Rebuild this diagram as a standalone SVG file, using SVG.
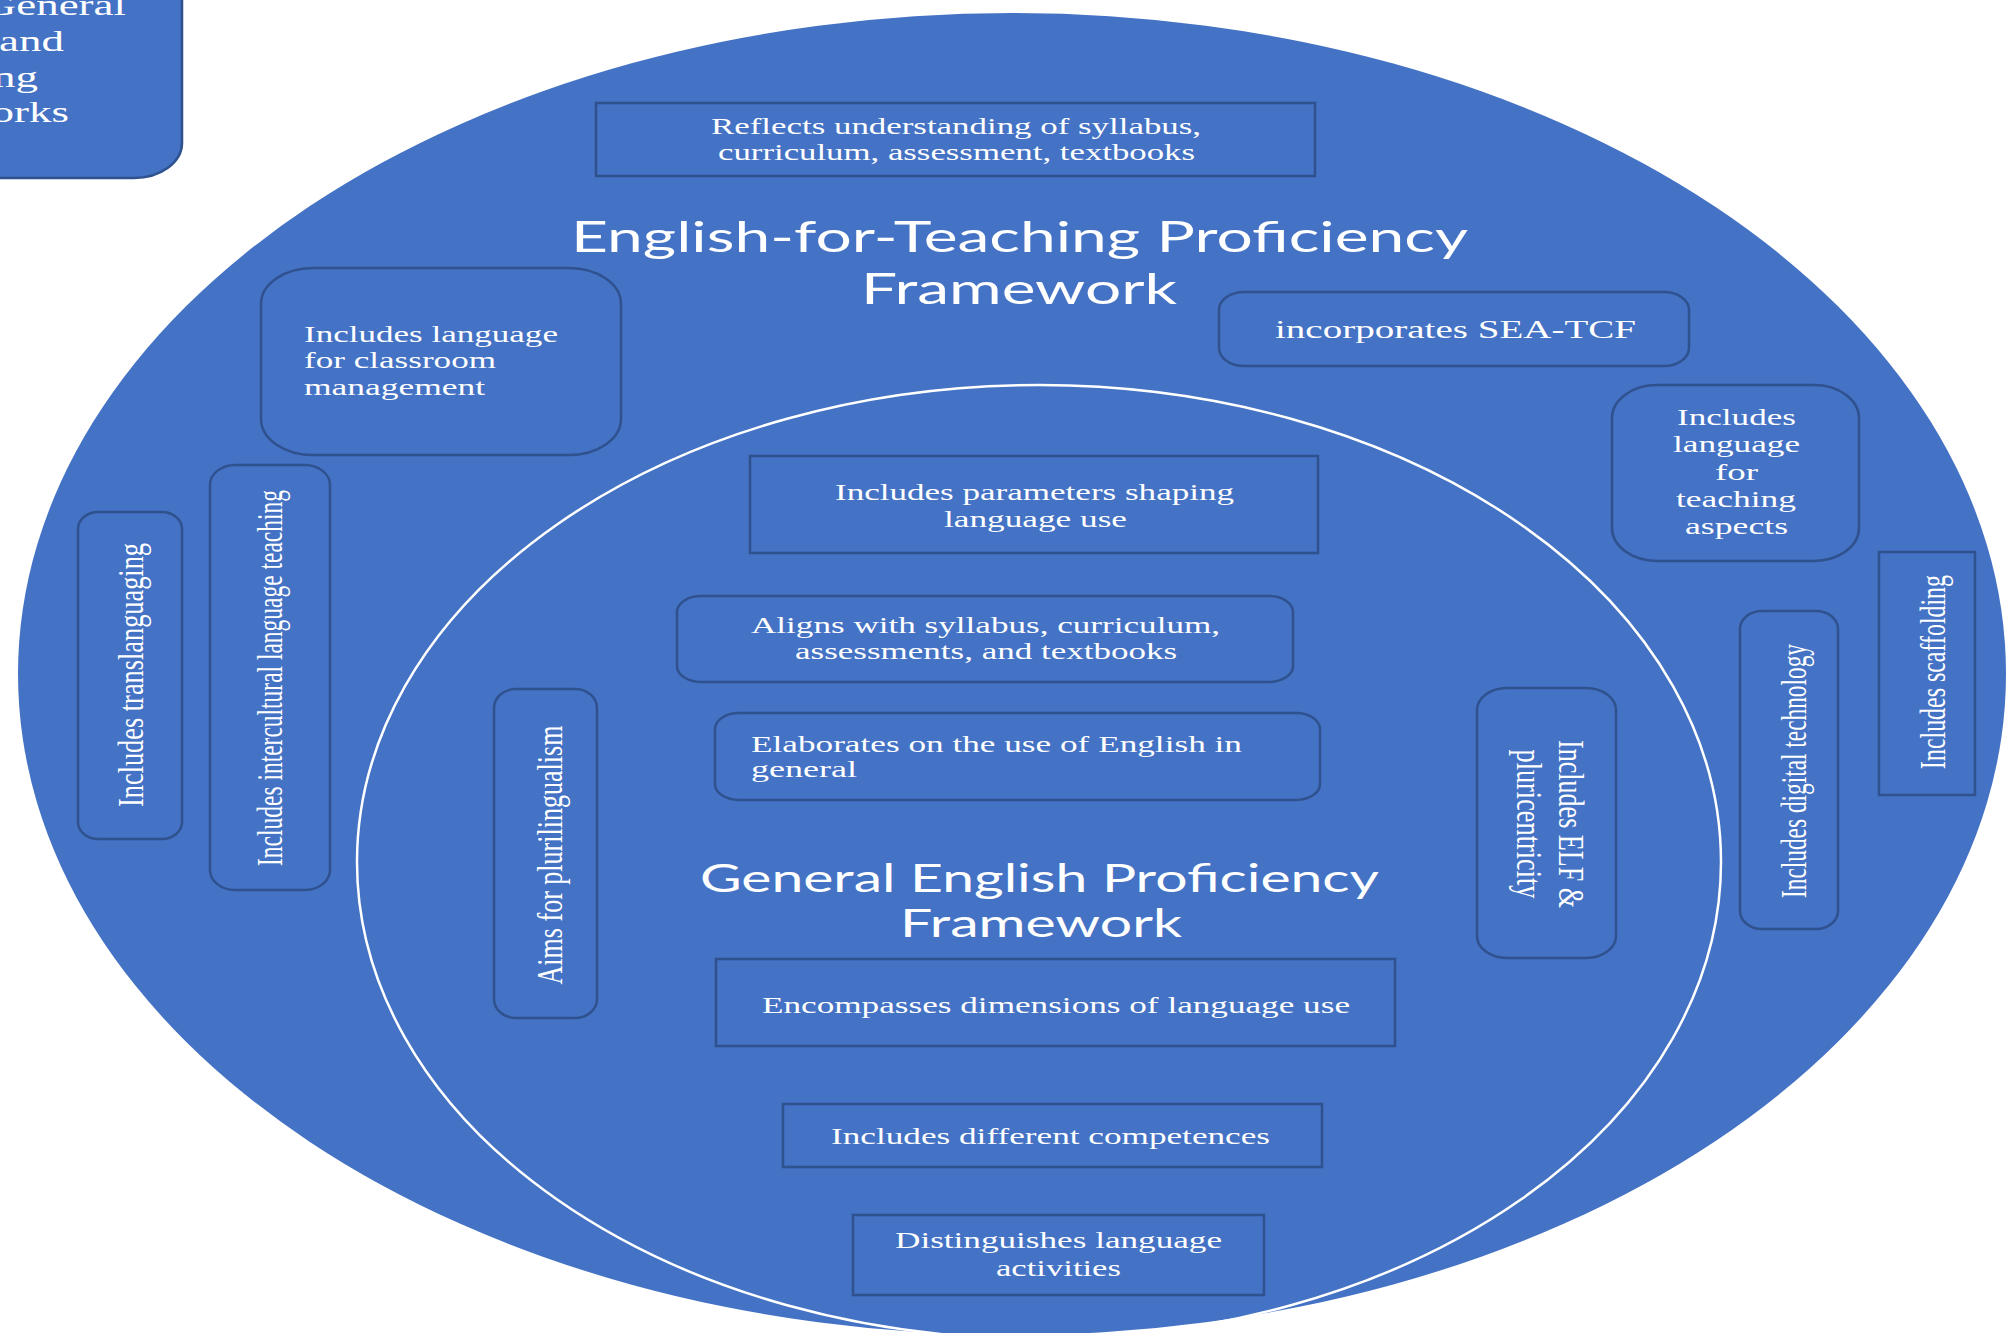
<svg xmlns="http://www.w3.org/2000/svg" width="2008" height="1333" viewBox="0 0 2008 1333">
  <style>
    .bg { fill: #ffffff; }
    .disc { fill: #4472C4; }
    .ring { fill: none; stroke: #ffffff; stroke-width: 2.5; }
    .box { fill: #4472C4; stroke: #2F528F; stroke-width: 2.5; }
    .t { font-family: "Liberation Serif", "Times New Roman", serif; font-size: 24px; fill: #ffffff; }
    .big { font-size: 25px; }
    .frag { font-family: "Liberation Serif", "Times New Roman", serif; font-size: 29px; fill: #ffffff; }
    .title { font-family: Lato, "Open Sans", "Liberation Sans", sans-serif; fill: #ffffff; }
    .t1 { font-size: 42px; }
    .t2 { font-size: 38px; }
  </style>

  <rect class="bg" x="0" y="0" width="2008" height="1333"/>

  <!-- outer framework disc and inner framework ring -->
  <g id="frameworks">
    <ellipse class="disc" cx="1012" cy="674" rx="994" ry="661"/>
    <ellipse class="ring" cx="1039" cy="862" rx="682" ry="477"/>
  </g>

  <!-- titles -->
  <g id="title-teaching">
    <text class="title t1" x="571" y="252" textLength="897" lengthAdjust="spacingAndGlyphs">English-for-Teaching Proficiency</text>
    <text class="title t1" x="861" y="304" textLength="316" lengthAdjust="spacingAndGlyphs">Framework</text>
  </g>
  <g id="title-general">
    <text class="title t2" x="700" y="892" textLength="679" lengthAdjust="spacingAndGlyphs">General English Proficiency</text>
    <text class="title t2" x="900" y="937" textLength="282" lengthAdjust="spacingAndGlyphs">Framework</text>
  </g>

  <!-- corner box, partly off the page -->
  <g id="corner-note">
    <rect class="box" x="-60" y="-60" width="242" height="238" rx="48" ry="35"/>
    <text class="frag" text-anchor="end" transform="translate(126,15) scale(1.55,1)">General</text>
    <text class="frag" text-anchor="end" transform="translate(64,51) scale(1.55,1)">and</text>
    <text class="frag" text-anchor="end" transform="translate(38,87) scale(1.55,1)">ng</text>
    <text class="frag" text-anchor="end" transform="translate(69,122) scale(1.55,1)">orks</text>
  </g>

  <!-- outer ring nodes (labels are drawn 1.5x wide) -->
  <g id="node-reflects">
    <rect class="box" x="596" y="103" width="719" height="73"/>
    <text class="t" transform="translate(711,134) scale(1.5,1)" textLength="326.7" lengthAdjust="spacingAndGlyphs">Reflects understanding of syllabus,</text>
    <text class="t" transform="translate(718,160) scale(1.5,1)" textLength="318" lengthAdjust="spacingAndGlyphs">curriculum, assessment, textbooks</text>
  </g>

  <g id="node-classroom">
    <rect class="box" x="261" y="268" width="360" height="187" rx="52" ry="36"/>
    <text class="t" transform="translate(304,342) scale(1.5,1)" textLength="169.3" lengthAdjust="spacingAndGlyphs">Includes language</text>
    <text class="t" transform="translate(304,368) scale(1.5,1)" textLength="128" lengthAdjust="spacingAndGlyphs">for classroom</text>
    <text class="t" transform="translate(304,395) scale(1.5,1)" textLength="120.7" lengthAdjust="spacingAndGlyphs">management</text>
  </g>

  <g id="node-seatcf">
    <rect class="box" x="1219" y="292" width="470" height="74" rx="25" ry="18"/>
    <text class="t big" transform="translate(1275,338) scale(1.5,1)" textLength="240.7" lengthAdjust="spacingAndGlyphs">incorporates SEA-TCF</text>
  </g>

  <g id="node-teaching-aspects">
    <rect class="box" x="1612" y="385" width="247" height="176" rx="45" ry="33"/>
    <text class="t" transform="translate(1677,425) scale(1.5,1)" textLength="79.3" lengthAdjust="spacingAndGlyphs">Includes</text>
    <text class="t" transform="translate(1673,452) scale(1.5,1)" textLength="84.7" lengthAdjust="spacingAndGlyphs">language</text>
    <text class="t" transform="translate(1715,480) scale(1.5,1)" textLength="28.7" lengthAdjust="spacingAndGlyphs">for</text>
    <text class="t" transform="translate(1676,507) scale(1.5,1)" textLength="80" lengthAdjust="spacingAndGlyphs">teaching</text>
    <text class="t" transform="translate(1685,534) scale(1.5,1)" textLength="68.7" lengthAdjust="spacingAndGlyphs">aspects</text>
  </g>

  <g id="node-scaffolding">
    <rect class="box" x="1879" y="552" width="96" height="243"/>
    <text class="t" x="-97" y="0" textLength="194" lengthAdjust="spacingAndGlyphs" transform="translate(1945,672) scale(1.5,1) rotate(-90)">Includes scaffolding</text>
  </g>

  <g id="node-digital">
    <rect class="box" x="1740" y="611" width="98" height="318" rx="22" ry="18"/>
    <text class="t" x="-127" y="0" textLength="254" lengthAdjust="spacingAndGlyphs" transform="translate(1806,771) scale(1.5,1) rotate(-90)">Includes digital technology</text>
  </g>

  <g id="node-translanguaging">
    <rect class="box" x="78" y="512" width="104" height="327" rx="20" ry="17"/>
    <text class="t" x="-132" y="0" textLength="264" lengthAdjust="spacingAndGlyphs" transform="translate(143,675) scale(1.5,1) rotate(-90)">Includes translanguaging</text>
  </g>

  <g id="node-intercultural">
    <rect class="box" x="210" y="465" width="120" height="425" rx="25" ry="20"/>
    <text class="t" x="-188" y="0" textLength="376" lengthAdjust="spacingAndGlyphs" transform="translate(282,678) scale(1.5,1) rotate(-90)">Includes intercultural language teaching</text>
  </g>

  <!-- inner ring nodes -->
  <g id="node-plurilingualism">
    <rect class="box" x="494" y="689" width="103" height="329" rx="22" ry="19"/>
    <text class="t" x="-129.5" y="0" textLength="259" lengthAdjust="spacingAndGlyphs" transform="translate(562,855) scale(1.5,1) rotate(-90)">Aims for plurilingualism</text>
  </g>

  <g id="node-elf">
    <rect class="box" x="1477" y="688" width="139" height="270" rx="30" ry="22"/>
    <text class="t" x="-84" y="0" textLength="168" lengthAdjust="spacingAndGlyphs" transform="translate(1559,824) scale(1.5,1) rotate(90)">Includes ELF &amp;</text>
    <text class="t" x="-74.5" y="0" textLength="149" lengthAdjust="spacingAndGlyphs" transform="translate(1517,824) scale(1.5,1) rotate(90)">pluricentricity</text>
  </g>

  <g id="node-parameters">
    <rect class="box" x="750" y="456" width="568" height="97"/>
    <text class="t" transform="translate(835,500) scale(1.5,1)" textLength="266" lengthAdjust="spacingAndGlyphs">Includes parameters shaping</text>
    <text class="t" transform="translate(944,527) scale(1.5,1)" textLength="122" lengthAdjust="spacingAndGlyphs">language use</text>
  </g>

  <g id="node-aligns">
    <rect class="box" x="677" y="596" width="616" height="86" rx="24" ry="16"/>
    <text class="t" transform="translate(751,633) scale(1.5,1)" textLength="312.7" lengthAdjust="spacingAndGlyphs">Aligns with syllabus, curriculum,</text>
    <text class="t" transform="translate(795,659) scale(1.5,1)" textLength="254.7" lengthAdjust="spacingAndGlyphs">assessments, and textbooks</text>
  </g>

  <g id="node-elaborates">
    <rect class="box" x="715" y="713" width="605" height="87" rx="24" ry="16"/>
    <text class="t" transform="translate(751,752) scale(1.5,1)" textLength="327.3" lengthAdjust="spacingAndGlyphs">Elaborates on the use of English in</text>
    <text class="t" transform="translate(751,777) scale(1.5,1)" textLength="70.7" lengthAdjust="spacingAndGlyphs">general</text>
  </g>

  <g id="node-encompasses">
    <rect class="box" x="716" y="959" width="679" height="87"/>
    <text class="t" transform="translate(762,1013) scale(1.5,1)" textLength="392" lengthAdjust="spacingAndGlyphs">Encompasses dimensions of language use</text>
  </g>

  <g id="node-competences">
    <rect class="box" x="783" y="1104" width="539" height="63"/>
    <text class="t" transform="translate(831,1144) scale(1.5,1)" textLength="292.7" lengthAdjust="spacingAndGlyphs">Includes different competences</text>
  </g>

  <g id="node-activities">
    <rect class="box" x="853" y="1215" width="411" height="80"/>
    <text class="t" transform="translate(895,1248) scale(1.5,1)" textLength="218" lengthAdjust="spacingAndGlyphs">Distinguishes language</text>
    <text class="t" transform="translate(996,1276) scale(1.5,1)" textLength="83.3" lengthAdjust="spacingAndGlyphs">activities</text>
  </g>

  <!-- the figure has no connector lines -->
  <g id="connectors"></g>
</svg>
